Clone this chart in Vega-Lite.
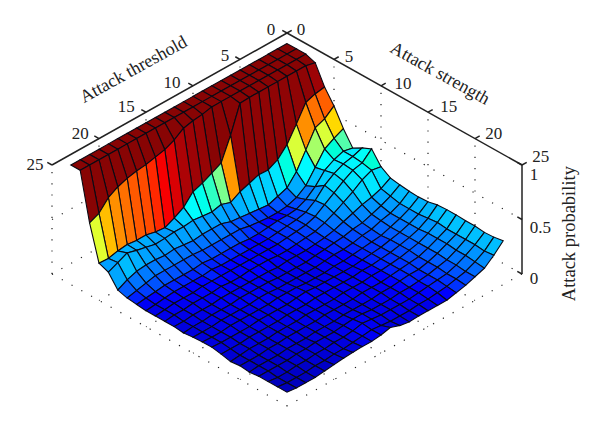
{"$schema":"https://vega.github.io/schema/vega-lite/v6.json","width":600,"height":425,"autosize":{"type":"fit","contains":"padding"},"padding":0,"background":"white","config":{"view":{"stroke":null}},
"datasets":{"grid":[{"id":"a1","t":0,"s":0,"z":0,"o":0},{"id":"a1","t":25,"s":0,"z":0,"o":1},{"id":"a2","t":0,"s":0,"z":0,"o":0},{"id":"a2","t":0,"s":25,"z":0,"o":1},{"id":"a3","t":25,"s":0,"z":0,"o":0},{"id":"a3","t":25,"s":25,"z":0,"o":1},{"id":"a4","t":0,"s":25,"z":0,"o":0},{"id":"a4","t":25,"s":25,"z":0,"o":1},{"id":"f5","t":5,"s":0,"z":0,"o":0},{"id":"f5","t":5,"s":25,"z":0,"o":1},{"id":"f10","t":10,"s":0,"z":0,"o":0},{"id":"f10","t":10,"s":25,"z":0,"o":1},{"id":"f15","t":15,"s":0,"z":0,"o":0},{"id":"f15","t":15,"s":25,"z":0,"o":1},{"id":"f20","t":20,"s":0,"z":0,"o":0},{"id":"f20","t":20,"s":25,"z":0,"o":1},{"id":"g5","t":0,"s":5,"z":0,"o":0},{"id":"g5","t":25,"s":5,"z":0,"o":1},{"id":"g10","t":0,"s":10,"z":0,"o":0},{"id":"g10","t":25,"s":10,"z":0,"o":1},{"id":"g15","t":0,"s":15,"z":0,"o":0},{"id":"g15","t":25,"s":15,"z":0,"o":1},{"id":"g20","t":0,"s":20,"z":0,"o":0},{"id":"g20","t":25,"s":20,"z":0,"o":1},{"id":"v1","t":25,"s":0,"z":0,"o":0},{"id":"v1","t":25,"s":0,"z":1,"o":1},{"id":"v2","t":20,"s":0,"z":0,"o":0},{"id":"v2","t":20,"s":0,"z":1,"o":1},{"id":"v3","t":15,"s":0,"z":0,"o":0},{"id":"v3","t":15,"s":0,"z":1,"o":1},{"id":"v4","t":10,"s":0,"z":0,"o":0},{"id":"v4","t":10,"s":0,"z":1,"o":1},{"id":"v5","t":5,"s":0,"z":0,"o":0},{"id":"v5","t":5,"s":0,"z":1,"o":1},{"id":"v6","t":0,"s":5,"z":0,"o":0},{"id":"v6","t":0,"s":5,"z":1,"o":1},{"id":"v7","t":0,"s":10,"z":0,"o":0},{"id":"v7","t":0,"s":10,"z":1,"o":1},{"id":"v8","t":0,"s":15,"z":0,"o":0},{"id":"v8","t":0,"s":15,"z":1,"o":1},{"id":"v9","t":0,"s":20,"z":0,"o":0},{"id":"v9","t":0,"s":20,"z":1,"o":1},{"id":"h1","t":25,"s":0,"z":0.5,"o":0},{"id":"h1","t":0,"s":0,"z":0.5,"o":1},{"id":"h2","t":0,"s":0,"z":0.5,"o":0},{"id":"h2","t":0,"s":25,"z":0.5,"o":1}],
"axes":[{"id":"ax1","t":0,"s":0,"z":1,"o":0},{"id":"ax1","t":25,"s":0,"z":1,"o":1},{"id":"ax2","t":0,"s":0,"z":1,"o":0},{"id":"ax2","t":0,"s":25,"z":1,"o":1},{"id":"ax3","t":0,"s":25,"z":0,"o":0},{"id":"ax3","t":0,"s":25,"z":1,"o":1},{"id":"t0","t":0,"s":0,"z":1,"o":0},{"id":"t0","t":0,"s":-0.5,"z":1,"o":1},{"id":"t5","t":5,"s":0,"z":1,"o":0},{"id":"t5","t":5,"s":-0.5,"z":1,"o":1},{"id":"t10","t":10,"s":0,"z":1,"o":0},{"id":"t10","t":10,"s":-0.5,"z":1,"o":1},{"id":"t15","t":15,"s":0,"z":1,"o":0},{"id":"t15","t":15,"s":-0.5,"z":1,"o":1},{"id":"t20","t":20,"s":0,"z":1,"o":0},{"id":"t20","t":20,"s":-0.5,"z":1,"o":1},{"id":"t25","t":25,"s":0,"z":1,"o":0},{"id":"t25","t":25,"s":-0.5,"z":1,"o":1},{"id":"s0","t":0,"s":0,"z":1,"o":0},{"id":"s0","t":-0.5,"s":0,"z":1,"o":1},{"id":"s5","t":0,"s":5,"z":1,"o":0},{"id":"s5","t":-0.5,"s":5,"z":1,"o":1},{"id":"s10","t":0,"s":10,"z":1,"o":0},{"id":"s10","t":-0.5,"s":10,"z":1,"o":1},{"id":"s15","t":0,"s":15,"z":1,"o":0},{"id":"s15","t":-0.5,"s":15,"z":1,"o":1},{"id":"s20","t":0,"s":20,"z":1,"o":0},{"id":"s20","t":-0.5,"s":20,"z":1,"o":1},{"id":"s25","t":0,"s":25,"z":1,"o":0},{"id":"s25","t":-0.5,"s":25,"z":1,"o":1},{"id":"z0","t":0,"s":25,"z":0,"o":0},{"id":"z0","t":0,"s":24.5,"z":0,"o":1},{"id":"z5","t":0,"s":25,"z":0.5,"o":0},{"id":"z5","t":0,"s":24.5,"z":0.5,"o":1},{"id":"z1","t":0,"s":25,"z":1,"o":0},{"id":"z1","t":0,"s":24.5,"z":1,"o":1}],
"labels":[{"t":0.565,"s":-1.135,"z":1,"v":"0"},{"t":5.48,"s":-1.12,"z":1,"v":"5"},{"t":10.85,"s":-1.38,"z":1,"v":"10"},{"t":15.55,"s":-1.55,"z":1,"v":"15"},{"t":20.55,"s":-1.45,"z":1,"v":"20"},{"t":25.9,"s":-0.9,"z":1,"v":"25"},{"t":-1.03,"s":0.46,"z":1,"v":"0"},{"t":-1.02,"s":5.57,"z":1,"v":"5"},{"t":-1.34,"s":11,"z":1,"v":"10"},{"t":-1.6,"s":15.6,"z":1,"v":"15"},{"t":-1.45,"s":20.55,"z":1,"v":"20"},{"t":-1.75,"s":25.25,"z":1,"v":"25"}],
"zlabels":[{"t":0.37,"s":26.2,"z":0.98,"v":"1"},{"t":0.37,"s":26.2,"z":0.5,"v":"0.5"},{"t":0.37,"s":26.2,"z":0.03,"v":"0"}],
"surface":[
{"s":1,"t":1,"p":1},{"s":1,"t":2,"p":1},{"s":1,"t":3,"p":1},{"s":1,"t":4,"p":1},{"s":1,"t":5,"p":1},{"s":1,"t":6,"p":1},{"s":1,"t":7,"p":1},{"s":1,"t":8,"p":1},{"s":1,"t":9,"p":1},{"s":1,"t":10,"p":1},{"s":1,"t":11,"p":1},{"s":1,"t":12,"p":1},{"s":1,"t":13,"p":1},{"s":1,"t":14,"p":1},{"s":1,"t":15,"p":1},{"s":1,"t":16,"p":1},{"s":1,"t":17,"p":1},{"s":1,"t":18,"p":1},{"s":1,"t":19,"p":1},{"s":1,"t":20,"p":1},{"s":1,"t":21,"p":1},{"s":1,"t":22,"p":1},{"s":1,"t":23,"p":1},{"s":1,"t":24,"p":1},
{"s":2,"t":1,"p":1},{"s":2,"t":2,"p":1},{"s":2,"t":3,"p":1},{"s":2,"t":4,"p":1},{"s":2,"t":5,"p":1},{"s":2,"t":6,"p":1},{"s":2,"t":7,"p":1},{"s":2,"t":8,"p":1},{"s":2,"t":9,"p":1},{"s":2,"t":10,"p":1},{"s":2,"t":11,"p":1},{"s":2,"t":12,"p":1},{"s":2,"t":13,"p":1},{"s":2,"t":14,"p":1},{"s":2,"t":15,"p":1},{"s":2,"t":16,"p":1},{"s":2,"t":17,"p":1},{"s":2,"t":18,"p":1},{"s":2,"t":19,"p":1},{"s":2,"t":20,"p":1},{"s":2,"t":21,"p":1},{"s":2,"t":22,"p":1},{"s":2,"t":23,"p":1},{"s":2,"t":24,"p":1},
{"s":3,"t":1,"p":1},{"s":3,"t":2,"p":1},{"s":3,"t":3,"p":1},{"s":3,"t":4,"p":1},{"s":3,"t":5,"p":1},{"s":3,"t":6,"p":1},{"s":3,"t":7,"p":1},{"s":3,"t":8,"p":1},{"s":3,"t":9,"p":1},{"s":3,"t":10,"p":1},{"s":3,"t":11,"p":1},{"s":3,"t":12,"p":0.98},{"s":3,"t":13,"p":0.97},{"s":3,"t":14,"p":0.95},{"s":3,"t":15,"p":0.89},{"s":3,"t":16,"p":0.85},{"s":3,"t":17,"p":0.83},{"s":3,"t":18,"p":0.81},{"s":3,"t":19,"p":0.8},{"s":3,"t":20,"p":0.78},{"s":3,"t":21,"p":0.75},{"s":3,"t":22,"p":0.7},{"s":3,"t":23,"p":0.605},{"s":3,"t":24,"p":0.565},
{"s":4,"t":1,"p":0.97},{"s":4,"t":2,"p":0.99},{"s":4,"t":3,"p":0.99},{"s":4,"t":4,"p":0.99},{"s":4,"t":5,"p":0.99},{"s":4,"t":6,"p":0.99},{"s":4,"t":7,"p":0.99},{"s":4,"t":8,"p":0.99},{"s":4,"t":9,"p":0.985},{"s":4,"t":10,"p":0.74},{"s":4,"t":11,"p":0.535},{"s":4,"t":12,"p":0.49},{"s":4,"t":13,"p":0.447},{"s":4,"t":14,"p":0.415},{"s":4,"t":15,"p":0.32},{"s":4,"t":16,"p":0.27},{"s":4,"t":17,"p":0.23},{"s":4,"t":18,"p":0.24},{"s":4,"t":19,"p":0.26},{"s":4,"t":20,"p":0.26},{"s":4,"t":21,"p":0.27},{"s":4,"t":22,"p":0.26},{"s":4,"t":23,"p":0.24},{"s":4,"t":24,"p":0.245},
{"s":5,"t":1,"p":0.795},{"s":5,"t":2,"p":0.78},{"s":5,"t":3,"p":0.75},{"s":5,"t":4,"p":0.6},{"s":5,"t":5,"p":0.46},{"s":5,"t":6,"p":0.37},{"s":5,"t":7,"p":0.325},{"s":5,"t":8,"p":0.33},{"s":5,"t":9,"p":0.3},{"s":5,"t":10,"p":0.27},{"s":5,"t":11,"p":0.22},{"s":5,"t":12,"p":0.25},{"s":5,"t":13,"p":0.23},{"s":5,"t":14,"p":0.24},{"s":5,"t":15,"p":0.25},{"s":5,"t":16,"p":0.24},{"s":5,"t":17,"p":0.24},{"s":5,"t":18,"p":0.23},{"s":5,"t":19,"p":0.225},{"s":5,"t":20,"p":0.245},{"s":5,"t":21,"p":0.265},{"s":5,"t":22,"p":0.29},{"s":5,"t":23,"p":0.25},{"s":5,"t":24,"p":0.21},
{"s":6,"t":1,"p":0.67},{"s":6,"t":2,"p":0.6},{"s":6,"t":3,"p":0.565},{"s":6,"t":4,"p":0.41},{"s":6,"t":5,"p":0.26},{"s":6,"t":6,"p":0.16},{"s":6,"t":7,"p":0.13},{"s":6,"t":8,"p":0.1},{"s":6,"t":9,"p":0.11},{"s":6,"t":10,"p":0.12},{"s":6,"t":11,"p":0.13},{"s":6,"t":12,"p":0.14},{"s":6,"t":13,"p":0.17},{"s":6,"t":14,"p":0.17},{"s":6,"t":15,"p":0.17},{"s":6,"t":16,"p":0.16},{"s":6,"t":17,"p":0.17},{"s":6,"t":18,"p":0.18},{"s":6,"t":19,"p":0.17},{"s":6,"t":20,"p":0.18},{"s":6,"t":21,"p":0.18},{"s":6,"t":22,"p":0.17},{"s":6,"t":23,"p":0.14},{"s":6,"t":24,"p":0.095},
{"s":7,"t":1,"p":0.51},{"s":7,"t":2,"p":0.47},{"s":7,"t":3,"p":0.42},{"s":7,"t":4,"p":0.3},{"s":7,"t":5,"p":0.18},{"s":7,"t":6,"p":0.12},{"s":7,"t":7,"p":0.09},{"s":7,"t":8,"p":0.08},{"s":7,"t":9,"p":0.08},{"s":7,"t":10,"p":0.09},{"s":7,"t":11,"p":0.1},{"s":7,"t":12,"p":0.12},{"s":7,"t":13,"p":0.12},{"s":7,"t":14,"p":0.12},{"s":7,"t":15,"p":0.12},{"s":7,"t":16,"p":0.12},{"s":7,"t":17,"p":0.13},{"s":7,"t":18,"p":0.13},{"s":7,"t":19,"p":0.13},{"s":7,"t":20,"p":0.13},{"s":7,"t":21,"p":0.13},{"s":7,"t":22,"p":0.11},{"s":7,"t":23,"p":0.09},{"s":7,"t":24,"p":0.07},
{"s":8,"t":1,"p":0.38},{"s":8,"t":2,"p":0.4},{"s":8,"t":3,"p":0.37},{"s":8,"t":4,"p":0.32},{"s":8,"t":5,"p":0.22},{"s":8,"t":6,"p":0.15},{"s":8,"t":7,"p":0.11},{"s":8,"t":8,"p":0.1},{"s":8,"t":9,"p":0.1},{"s":8,"t":10,"p":0.09},{"s":8,"t":11,"p":0.08},{"s":8,"t":12,"p":0.08},{"s":8,"t":13,"p":0.09},{"s":8,"t":14,"p":0.09},{"s":8,"t":15,"p":0.09},{"s":8,"t":16,"p":0.09},{"s":8,"t":17,"p":0.1},{"s":8,"t":18,"p":0.09},{"s":8,"t":19,"p":0.09},{"s":8,"t":20,"p":0.09},{"s":8,"t":21,"p":0.09},{"s":8,"t":22,"p":0.08},{"s":8,"t":23,"p":0.07},{"s":8,"t":24,"p":0.06},
{"s":9,"t":1,"p":0.43},{"s":9,"t":2,"p":0.4},{"s":9,"t":3,"p":0.38},{"s":9,"t":4,"p":0.34},{"s":9,"t":5,"p":0.28},{"s":9,"t":6,"p":0.19},{"s":9,"t":7,"p":0.13},{"s":9,"t":8,"p":0.11},{"s":9,"t":9,"p":0.1},{"s":9,"t":10,"p":0.09},{"s":9,"t":11,"p":0.08},{"s":9,"t":12,"p":0.08},{"s":9,"t":13,"p":0.08},{"s":9,"t":14,"p":0.08},{"s":9,"t":15,"p":0.08},{"s":9,"t":16,"p":0.08},{"s":9,"t":17,"p":0.09},{"s":9,"t":18,"p":0.08},{"s":9,"t":19,"p":0.08},{"s":9,"t":20,"p":0.08},{"s":9,"t":21,"p":0.08},{"s":9,"t":22,"p":0.07},{"s":9,"t":23,"p":0.06},{"s":9,"t":24,"p":0.05},
{"s":10,"t":1,"p":0.47},{"s":10,"t":2,"p":0.39},{"s":10,"t":3,"p":0.37},{"s":10,"t":4,"p":0.32},{"s":10,"t":5,"p":0.26},{"s":10,"t":6,"p":0.2},{"s":10,"t":7,"p":0.14},{"s":10,"t":8,"p":0.11},{"s":10,"t":9,"p":0.1},{"s":10,"t":10,"p":0.09},{"s":10,"t":11,"p":0.08},{"s":10,"t":12,"p":0.08},{"s":10,"t":13,"p":0.08},{"s":10,"t":14,"p":0.08},{"s":10,"t":15,"p":0.08},{"s":10,"t":16,"p":0.08},{"s":10,"t":17,"p":0.08},{"s":10,"t":18,"p":0.08},{"s":10,"t":19,"p":0.08},{"s":10,"t":20,"p":0.07},{"s":10,"t":21,"p":0.07},{"s":10,"t":22,"p":0.07},{"s":10,"t":23,"p":0.06},{"s":10,"t":24,"p":0.05},
{"s":11,"t":1,"p":0.355},{"s":11,"t":2,"p":0.37},{"s":11,"t":3,"p":0.33},{"s":11,"t":4,"p":0.27},{"s":11,"t":5,"p":0.22},{"s":11,"t":6,"p":0.17},{"s":11,"t":7,"p":0.13},{"s":11,"t":8,"p":0.1},{"s":11,"t":9,"p":0.09},{"s":11,"t":10,"p":0.08},{"s":11,"t":11,"p":0.07},{"s":11,"t":12,"p":0.07},{"s":11,"t":13,"p":0.08},{"s":11,"t":14,"p":0.08},{"s":11,"t":15,"p":0.08},{"s":11,"t":16,"p":0.07},{"s":11,"t":17,"p":0.07},{"s":11,"t":18,"p":0.08},{"s":11,"t":19,"p":0.07},{"s":11,"t":20,"p":0.07},{"s":11,"t":21,"p":0.07},{"s":11,"t":22,"p":0.06},{"s":11,"t":23,"p":0.06},{"s":11,"t":24,"p":0.05},
{"s":12,"t":1,"p":0.3},{"s":12,"t":2,"p":0.25},{"s":12,"t":3,"p":0.22},{"s":12,"t":4,"p":0.2},{"s":12,"t":5,"p":0.17},{"s":12,"t":6,"p":0.14},{"s":12,"t":7,"p":0.11},{"s":12,"t":8,"p":0.09},{"s":12,"t":9,"p":0.08},{"s":12,"t":10,"p":0.07},{"s":12,"t":11,"p":0.07},{"s":12,"t":12,"p":0.07},{"s":12,"t":13,"p":0.06},{"s":12,"t":14,"p":0.07},{"s":12,"t":15,"p":0.07},{"s":12,"t":16,"p":0.07},{"s":12,"t":17,"p":0.07},{"s":12,"t":18,"p":0.07},{"s":12,"t":19,"p":0.07},{"s":12,"t":20,"p":0.06},{"s":12,"t":21,"p":0.06},{"s":12,"t":22,"p":0.06},{"s":12,"t":23,"p":0.05},{"s":12,"t":24,"p":0.05},
{"s":13,"t":1,"p":0.285},{"s":13,"t":2,"p":0.23},{"s":13,"t":3,"p":0.19},{"s":13,"t":4,"p":0.16},{"s":13,"t":5,"p":0.13},{"s":13,"t":6,"p":0.12},{"s":13,"t":7,"p":0.1},{"s":13,"t":8,"p":0.09},{"s":13,"t":9,"p":0.08},{"s":13,"t":10,"p":0.07},{"s":13,"t":11,"p":0.06},{"s":13,"t":12,"p":0.06},{"s":13,"t":13,"p":0.06},{"s":13,"t":14,"p":0.06},{"s":13,"t":15,"p":0.07},{"s":13,"t":16,"p":0.07},{"s":13,"t":17,"p":0.07},{"s":13,"t":18,"p":0.07},{"s":13,"t":19,"p":0.06},{"s":13,"t":20,"p":0.06},{"s":13,"t":21,"p":0.06},{"s":13,"t":22,"p":0.05},{"s":13,"t":23,"p":0.05},{"s":13,"t":24,"p":0.04},
{"s":14,"t":1,"p":0.275},{"s":14,"t":2,"p":0.21},{"s":14,"t":3,"p":0.17},{"s":14,"t":4,"p":0.15},{"s":14,"t":5,"p":0.12},{"s":14,"t":6,"p":0.11},{"s":14,"t":7,"p":0.09},{"s":14,"t":8,"p":0.08},{"s":14,"t":9,"p":0.08},{"s":14,"t":10,"p":0.07},{"s":14,"t":11,"p":0.06},{"s":14,"t":12,"p":0.06},{"s":14,"t":13,"p":0.06},{"s":14,"t":14,"p":0.06},{"s":14,"t":15,"p":0.06},{"s":14,"t":16,"p":0.07},{"s":14,"t":17,"p":0.07},{"s":14,"t":18,"p":0.06},{"s":14,"t":19,"p":0.06},{"s":14,"t":20,"p":0.06},{"s":14,"t":21,"p":0.06},{"s":14,"t":22,"p":0.05},{"s":14,"t":23,"p":0.05},{"s":14,"t":24,"p":0.05},
{"s":15,"t":1,"p":0.27},{"s":15,"t":2,"p":0.21},{"s":15,"t":3,"p":0.17},{"s":15,"t":4,"p":0.14},{"s":15,"t":5,"p":0.11},{"s":15,"t":6,"p":0.1},{"s":15,"t":7,"p":0.09},{"s":15,"t":8,"p":0.08},{"s":15,"t":9,"p":0.07},{"s":15,"t":10,"p":0.07},{"s":15,"t":11,"p":0.06},{"s":15,"t":12,"p":0.06},{"s":15,"t":13,"p":0.06},{"s":15,"t":14,"p":0.07},{"s":15,"t":15,"p":0.07},{"s":15,"t":16,"p":0.07},{"s":15,"t":17,"p":0.06},{"s":15,"t":18,"p":0.06},{"s":15,"t":19,"p":0.06},{"s":15,"t":20,"p":0.06},{"s":15,"t":21,"p":0.06},{"s":15,"t":22,"p":0.05},{"s":15,"t":23,"p":0.05},{"s":15,"t":24,"p":0.055},
{"s":16,"t":1,"p":0.275},{"s":16,"t":2,"p":0.21},{"s":16,"t":3,"p":0.17},{"s":16,"t":4,"p":0.14},{"s":16,"t":5,"p":0.12},{"s":16,"t":6,"p":0.1},{"s":16,"t":7,"p":0.09},{"s":16,"t":8,"p":0.08},{"s":16,"t":9,"p":0.07},{"s":16,"t":10,"p":0.07},{"s":16,"t":11,"p":0.07},{"s":16,"t":12,"p":0.07},{"s":16,"t":13,"p":0.07},{"s":16,"t":14,"p":0.08},{"s":16,"t":15,"p":0.07},{"s":16,"t":16,"p":0.06},{"s":16,"t":17,"p":0.06},{"s":16,"t":18,"p":0.06},{"s":16,"t":19,"p":0.06},{"s":16,"t":20,"p":0.05},{"s":16,"t":21,"p":0.05},{"s":16,"t":22,"p":0.05},{"s":16,"t":23,"p":0.05},{"s":16,"t":24,"p":0.055},
{"s":17,"t":1,"p":0.295},{"s":17,"t":2,"p":0.22},{"s":17,"t":3,"p":0.17},{"s":17,"t":4,"p":0.14},{"s":17,"t":5,"p":0.12},{"s":17,"t":6,"p":0.1},{"s":17,"t":7,"p":0.09},{"s":17,"t":8,"p":0.08},{"s":17,"t":9,"p":0.08},{"s":17,"t":10,"p":0.07},{"s":17,"t":11,"p":0.07},{"s":17,"t":12,"p":0.07},{"s":17,"t":13,"p":0.07},{"s":17,"t":14,"p":0.07},{"s":17,"t":15,"p":0.06},{"s":17,"t":16,"p":0.06},{"s":17,"t":17,"p":0.06},{"s":17,"t":18,"p":0.05},{"s":17,"t":19,"p":0.05},{"s":17,"t":20,"p":0.05},{"s":17,"t":21,"p":0.05},{"s":17,"t":22,"p":0.04},{"s":17,"t":23,"p":0.04},{"s":17,"t":24,"p":0.04},
{"s":18,"t":1,"p":0.3},{"s":18,"t":2,"p":0.23},{"s":18,"t":3,"p":0.18},{"s":18,"t":4,"p":0.14},{"s":18,"t":5,"p":0.12},{"s":18,"t":6,"p":0.1},{"s":18,"t":7,"p":0.09},{"s":18,"t":8,"p":0.08},{"s":18,"t":9,"p":0.08},{"s":18,"t":10,"p":0.07},{"s":18,"t":11,"p":0.07},{"s":18,"t":12,"p":0.07},{"s":18,"t":13,"p":0.06},{"s":18,"t":14,"p":0.06},{"s":18,"t":15,"p":0.06},{"s":18,"t":16,"p":0.06},{"s":18,"t":17,"p":0.05},{"s":18,"t":18,"p":0.05},{"s":18,"t":19,"p":0.05},{"s":18,"t":20,"p":0.04},{"s":18,"t":21,"p":0.04},{"s":18,"t":22,"p":0.04},{"s":18,"t":23,"p":0.03},{"s":18,"t":24,"p":0.02},
{"s":19,"t":1,"p":0.3},{"s":19,"t":2,"p":0.22},{"s":19,"t":3,"p":0.18},{"s":19,"t":4,"p":0.14},{"s":19,"t":5,"p":0.11},{"s":19,"t":6,"p":0.1},{"s":19,"t":7,"p":0.09},{"s":19,"t":8,"p":0.08},{"s":19,"t":9,"p":0.07},{"s":19,"t":10,"p":0.07},{"s":19,"t":11,"p":0.07},{"s":19,"t":12,"p":0.06},{"s":19,"t":13,"p":0.06},{"s":19,"t":14,"p":0.06},{"s":19,"t":15,"p":0.06},{"s":19,"t":16,"p":0.05},{"s":19,"t":17,"p":0.05},{"s":19,"t":18,"p":0.05},{"s":19,"t":19,"p":0.05},{"s":19,"t":20,"p":0.04},{"s":19,"t":21,"p":0.04},{"s":19,"t":22,"p":0.03},{"s":19,"t":23,"p":0.03},{"s":19,"t":24,"p":0.03},
{"s":20,"t":1,"p":0.295},{"s":20,"t":2,"p":0.22},{"s":20,"t":3,"p":0.18},{"s":20,"t":4,"p":0.14},{"s":20,"t":5,"p":0.11},{"s":20,"t":6,"p":0.09},{"s":20,"t":7,"p":0.09},{"s":20,"t":8,"p":0.08},{"s":20,"t":9,"p":0.07},{"s":20,"t":10,"p":0.07},{"s":20,"t":11,"p":0.06},{"s":20,"t":12,"p":0.06},{"s":20,"t":13,"p":0.06},{"s":20,"t":14,"p":0.06},{"s":20,"t":15,"p":0.05},{"s":20,"t":16,"p":0.05},{"s":20,"t":17,"p":0.05},{"s":20,"t":18,"p":0.04},{"s":20,"t":19,"p":0.04},{"s":20,"t":20,"p":0.04},{"s":20,"t":21,"p":0.03},{"s":20,"t":22,"p":0.03},{"s":20,"t":23,"p":0.03},{"s":20,"t":24,"p":0.02},
{"s":21,"t":1,"p":0.295},{"s":21,"t":2,"p":0.22},{"s":21,"t":3,"p":0.17},{"s":21,"t":4,"p":0.13},{"s":21,"t":5,"p":0.11},{"s":21,"t":6,"p":0.09},{"s":21,"t":7,"p":0.08},{"s":21,"t":8,"p":0.07},{"s":21,"t":9,"p":0.07},{"s":21,"t":10,"p":0.06},{"s":21,"t":11,"p":0.06},{"s":21,"t":12,"p":0.06},{"s":21,"t":13,"p":0.07},{"s":21,"t":14,"p":0.07},{"s":21,"t":15,"p":0.06},{"s":21,"t":16,"p":0.05},{"s":21,"t":17,"p":0.05},{"s":21,"t":18,"p":0.05},{"s":21,"t":19,"p":0.04},{"s":21,"t":20,"p":0.04},{"s":21,"t":21,"p":0.03},{"s":21,"t":22,"p":0.03},{"s":21,"t":23,"p":0.03},{"s":21,"t":24,"p":0.03},
{"s":22,"t":1,"p":0.285},{"s":22,"t":2,"p":0.22},{"s":22,"t":3,"p":0.17},{"s":22,"t":4,"p":0.13},{"s":22,"t":5,"p":0.1},{"s":22,"t":6,"p":0.09},{"s":22,"t":7,"p":0.08},{"s":22,"t":8,"p":0.07},{"s":22,"t":9,"p":0.06},{"s":22,"t":10,"p":0.06},{"s":22,"t":11,"p":0.06},{"s":22,"t":12,"p":0.06},{"s":22,"t":13,"p":0.07},{"s":22,"t":14,"p":0.08},{"s":22,"t":15,"p":0.06},{"s":22,"t":16,"p":0.05},{"s":22,"t":17,"p":0.05},{"s":22,"t":18,"p":0.04},{"s":22,"t":19,"p":0.04},{"s":22,"t":20,"p":0.03},{"s":22,"t":21,"p":0.03},{"s":22,"t":22,"p":0.02},{"s":22,"t":23,"p":0.02},{"s":22,"t":24,"p":0.03},
{"s":23,"t":1,"p":0.29},{"s":23,"t":2,"p":0.21},{"s":23,"t":3,"p":0.16},{"s":23,"t":4,"p":0.12},{"s":23,"t":5,"p":0.1},{"s":23,"t":6,"p":0.08},{"s":23,"t":7,"p":0.07},{"s":23,"t":8,"p":0.06},{"s":23,"t":9,"p":0.06},{"s":23,"t":10,"p":0.05},{"s":23,"t":11,"p":0.05},{"s":23,"t":12,"p":0.05},{"s":23,"t":13,"p":0.06},{"s":23,"t":14,"p":0.07},{"s":23,"t":15,"p":0.06},{"s":23,"t":16,"p":0.05},{"s":23,"t":17,"p":0.04},{"s":23,"t":18,"p":0.04},{"s":23,"t":19,"p":0.03},{"s":23,"t":20,"p":0.03},{"s":23,"t":21,"p":0.02},{"s":23,"t":22,"p":0.02},{"s":23,"t":23,"p":0.02},{"s":23,"t":24,"p":0.03},
{"s":24,"t":1,"p":0.305},{"s":24,"t":2,"p":0.22},{"s":24,"t":3,"p":0.15},{"s":24,"t":4,"p":0.12},{"s":24,"t":5,"p":0.09},{"s":24,"t":6,"p":0.07},{"s":24,"t":7,"p":0.05},{"s":24,"t":8,"p":0.05},{"s":24,"t":9,"p":0.05},{"s":24,"t":10,"p":0.05},{"s":24,"t":11,"p":0.045},{"s":24,"t":12,"p":0.06},{"s":24,"t":13,"p":0.09},{"s":24,"t":14,"p":0.07},{"s":24,"t":15,"p":0.06},{"s":24,"t":16,"p":0.06},{"s":24,"t":17,"p":0.055},{"s":24,"t":18,"p":0.05},{"s":24,"t":19,"p":0.04},{"s":24,"t":20,"p":0.03},{"s":24,"t":21,"p":0.02},{"s":24,"t":22,"p":0.02},{"s":24,"t":23,"p":0.02},{"s":24,"t":24,"p":0.03}
]},
"layer":[
{"data":{"name":"grid"},"transform":[{"calculate":"287+9.4*(datum.s-datum.t)","as":"px"},{"calculate":"33+5.28*(datum.t+datum.s)+109*(1-datum.z)","as":"py"}],"mark":{"type":"line","stroke":"#222","strokeWidth":1.2,"strokeDash":[1.2,10]},"encoding":{"x":{"field":"px","type":"quantitative","scale":{"domain":[0,600],"nice":false,"zero":false},"axis":null},"y":{"field":"py","type":"quantitative","scale":{"domain":[425,0],"nice":false,"zero":false},"axis":null},"detail":{"field":"id"},"order":{"field":"o"}}},
{"data":{"name":"axes"},"transform":[{"calculate":"287+9.4*(datum.s-datum.t)","as":"px"},{"calculate":"33+5.28*(datum.t+datum.s)+109*(1-datum.z)","as":"py"}],"mark":{"type":"line","stroke":"#222","strokeWidth":1.5},"encoding":{"x":{"field":"px","type":"quantitative","scale":{"domain":[0,600],"nice":false,"zero":false},"axis":null},"y":{"field":"py","type":"quantitative","scale":{"domain":[425,0],"nice":false,"zero":false},"axis":null},"detail":{"field":"id"},"order":{"field":"o"}}},
{"data":{"name":"surface"},"transform":[{"calculate":"[0,1,2,3]","as":"k"},{"flatten":["k"]},{"calculate":"datum.t-((datum.k==1||datum.k==2)?1:0)","as":"qt"},{"calculate":"datum.s-(datum.k>=2?1:0)","as":"qs"},{"filter":"datum.qt>=1&&datum.qt<=23&&datum.qs>=1&&datum.qs<=23"},{"calculate":"datum.qs*100+datum.qt","as":"qid"},{"calculate":"datum.k==0?datum.p:null","as":"pc"},{"joinaggregate":[{"op":"max","field":"pc","as":"c"}],"groupby":["qid"]},{"calculate":"287+9.4*(datum.s-datum.t)","as":"px"},{"calculate":"33+5.28*(datum.t+datum.s)+109*(1-datum.p)","as":"py"}],"mark":{"type":"line","interpolate":"linear-closed","stroke":"#0a0a14","strokeWidth":1.1},"encoding":{"x":{"field":"px","type":"quantitative","scale":{"domain":[0,600],"nice":false,"zero":false},"axis":null},"y":{"field":"py","type":"quantitative","scale":{"domain":[425,0],"nice":false,"zero":false},"axis":null},"detail":{"field":"qid"},"order":{"field":"k"},"fill":{"field":"c","type":"quantitative","legend":null,"scale":{"domain":[0,0.08,0.42,0.625,0.84,1],"range":["#0000a8","#0000ff","#00ffff","#ffff00","#ff0000","#880404"]}}}},
{"data":{"name":"labels"},"transform":[{"calculate":"287+9.4*(datum.s-datum.t)","as":"px"},{"calculate":"33+5.28*(datum.t+datum.s)+109*(1-datum.z)","as":"py"}],"mark":{"type":"text","font":"Liberation Serif","fontSize":17,"fill":"#222"},"encoding":{"x":{"field":"px","type":"quantitative","scale":{"domain":[0,600],"nice":false,"zero":false},"axis":null},"y":{"field":"py","type":"quantitative","scale":{"domain":[425,0],"nice":false,"zero":false},"axis":null},"text":{"field":"v"}}},
{"data":{"name":"zlabels"},"transform":[{"calculate":"287+9.4*(datum.s-datum.t)","as":"px"},{"calculate":"33+5.28*(datum.t+datum.s)+109*(1-datum.z)","as":"py"}],"mark":{"type":"text","align":"left","font":"Liberation Serif","fontSize":17,"fill":"#222"},"encoding":{"x":{"field":"px","type":"quantitative","scale":{"domain":[0,600],"nice":false,"zero":false},"axis":null},"y":{"field":"py","type":"quantitative","scale":{"domain":[425,0],"nice":false,"zero":false},"axis":null},"text":{"field":"v"}}},
{"data":{"values":[{"t":11.65,"s":-4.65,"z":1,"v":"Attack threshold"}]},"transform":[{"calculate":"287+9.4*(datum.s-datum.t)","as":"px"},{"calculate":"33+5.28*(datum.t+datum.s)+109*(1-datum.z)","as":"py"}],"mark":{"type":"text","angle":331,"font":"Liberation Serif","fontSize":18,"fill":"#222"},"encoding":{"x":{"field":"px","type":"quantitative","scale":{"domain":[0,600],"nice":false,"zero":false},"axis":null},"y":{"field":"py","type":"quantitative","scale":{"domain":[425,0],"nice":false,"zero":false},"axis":null},"text":{"field":"v"}}},
{"data":{"values":[{"t":-4.25,"s":12,"z":1,"v":"Attack strength"}]},"transform":[{"calculate":"287+9.4*(datum.s-datum.t)","as":"px"},{"calculate":"33+5.28*(datum.t+datum.s)+109*(1-datum.z)","as":"py"}],"mark":{"type":"text","angle":29,"font":"Liberation Serif","fontSize":18,"fill":"#222"},"encoding":{"x":{"field":"px","type":"quantitative","scale":{"domain":[0,600],"nice":false,"zero":false},"axis":null},"y":{"field":"py","type":"quantitative","scale":{"domain":[425,0],"nice":false,"zero":false},"axis":null},"text":{"field":"v"}}},
{"data":{"values":[{"t":4,"s":34,"z":1,"v":"Attack probability"}]},"transform":[{"calculate":"287+9.4*(datum.s-datum.t)","as":"px"},{"calculate":"33+5.28*(datum.t+datum.s)+109*(1-datum.z)","as":"py"}],"mark":{"type":"text","angle":270,"font":"Liberation Serif","fontSize":18.5,"fill":"#222"},"encoding":{"x":{"field":"px","type":"quantitative","scale":{"domain":[0,600],"nice":false,"zero":false},"axis":null},"y":{"field":"py","type":"quantitative","scale":{"domain":[425,0],"nice":false,"zero":false},"axis":null},"text":{"field":"v"}}}
]}
